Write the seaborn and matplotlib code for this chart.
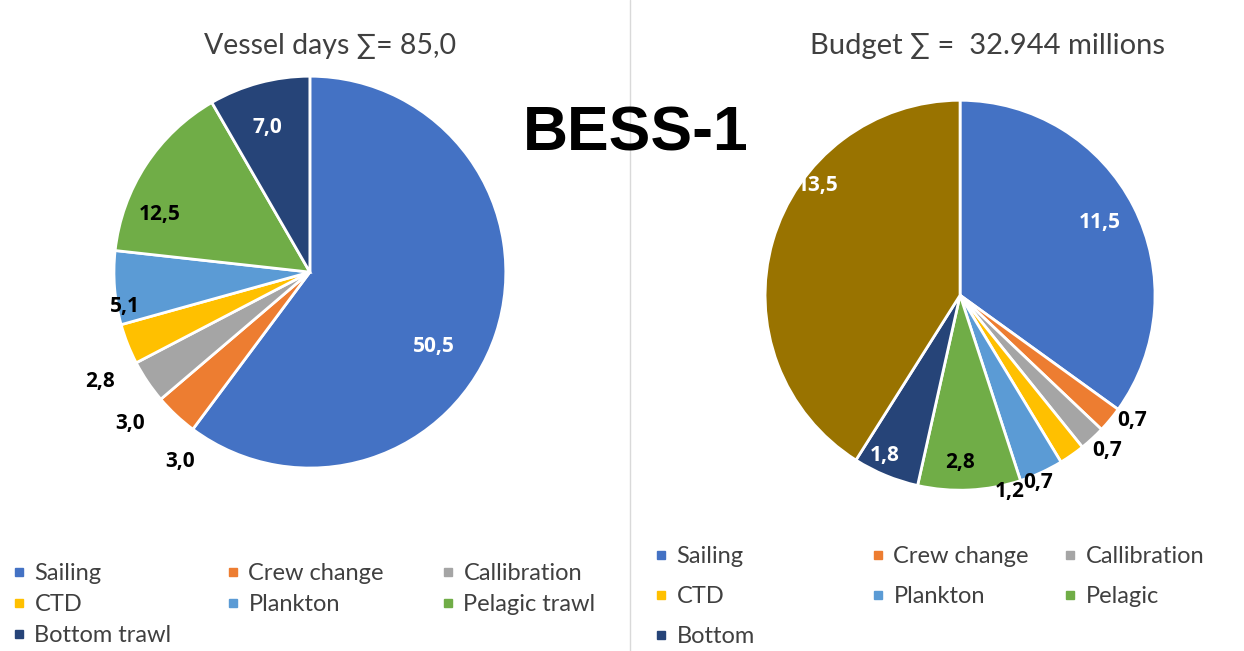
import matplotlib
matplotlib.use('Agg')
import matplotlib.pyplot as plt
from matplotlib.lines import Line2D
import numpy as np
import seaborn as sns

# data
categories = ["Sailing", "Crew change", "Callibration", "CTD", "Plankton", "Pelagic trawl", "Bottom trawl"]
days = [50.5, 3.0, 3.0, 2.8, 5.1, 12.5, 7.0]
day_labels = ["50,5", "3,0", "3,0", "2,8", "5,1", "12,5", "7,0"]

budget_cats = ["Sailing", "Crew change", "Callibration", "CTD", "Plankton", "Pelagic", "Bottom", "Other"]
budget = [11.5, 0.7, 0.7, 0.7, 1.2, 2.8, 1.8, 13.5]
budget_labels = ["11,5", "0,7", "0,7", "0,7", "1,2", "2,8", "1,8", "13,5"]

sns.set_theme(style="white")
plt.rcParams['font.family'] = ['Lato', 'DejaVu Sans']

pal = sns.color_palette(["#4472C4", "#ED7D31", "#A5A5A5", "#FFC000", "#5B9BD5", "#70AD47", "#264478", "#997300"])
txt_gray = "#404040"

fig = plt.figure(figsize=(12.44, 6.51), dpi=100)


def draw_pie(ax, values, labels, colors, tweaks, white_idx):
    wedges, _ = ax.pie(values, colors=colors, startangle=90, counterclock=False,
                       wedgeprops=dict(edgecolor="white", linewidth=2))
    for i, w in enumerate(wedges):
        mid = (w.theta1 + w.theta2) / 2 + tweaks[i][0]
        r = tweaks[i][1]
        x, y = r * np.cos(np.radians(mid)), r * np.sin(np.radians(mid))
        col = "white" if i in white_idx else "black"
        ax.text(x, y, labels[i], ha="center", va="center", fontsize=15,
                fontweight="bold", color=col, family="Open Sans")
    ax.set_xlim(-1, 1)
    ax.set_ylim(-1, 1)
    ax.axis("off")


# left pie - vessel days
ax1 = fig.add_axes([0.0916, 0.281, 0.315, 0.602])
left_tweaks = [(-12.7, 0.74), (8.7, 1.17), (6, 1.2), (6, 1.21), (6, 0.96), (12, 0.82), (1.3, 0.77)]
draw_pie(ax1, days, day_labels, pal[:7], left_tweaks, white_idx=[0, 6])

# right pie - budget
ax2 = fig.add_axes([0.615, 0.247, 0.3135, 0.599])
right_tweaks = [(0.4, 0.81), (3.7, 1.09), (0.8, 1.10), (-12.5, 1.04), (-10.4, 1.04),
                (-2.7, 0.86), (-2.6, 0.91), (-21.5, 0.92)]
draw_pie(ax2, budget, budget_labels, pal, right_tweaks, white_idx=[0, 6, 7])

# titles
fig.text(330 / 1244, 1 - 46 / 651, "Vessel days ∑= 85,0", ha="center", va="center",
         fontsize=20.5, color=txt_gray)
fig.text(987 / 1244, 1 - 46 / 651, "Budget ∑ =  32.944 millions", ha="center", va="center",
         fontsize=21, color=txt_gray)
fig.text(636 / 1244, 1 - 134 / 651, "BESS-1", ha="center", va="center", fontsize=45,
         fontweight="bold", color="black", family="Liberation Sans")

# divider
fig.add_artist(Line2D([630 / 1244, 630 / 1244], [0, 1], color="#d9d9d9", linewidth=1))


# legends, one per column, filled row-wise
def make_legend(names, colors, xs, y_top, spacing):
    for c in range(3):
        idx = list(range(c, len(names), 3))
        handles = [Line2D([], [], marker="s", linestyle="", markersize=5.5,
                          color=colors[i]) for i in idx]
        fig.legend(handles, [names[i] for i in idx], loc="upper left",
                   bbox_to_anchor=(xs[c] / 1244, 1 - y_top / 651),
                   frameon=False, fontsize=17, labelcolor=txt_gray,
                   handlelength=0.6, handletextpad=0.35, labelspacing=spacing,
                   borderpad=0, borderaxespad=0)


make_legend(categories, pal, [12, 226, 441], 563, 0.42)
make_legend(budget_cats[:7], pal, [654, 871, 1063], 546, 0.8)

fig.savefig("out.png", dpi=100)
